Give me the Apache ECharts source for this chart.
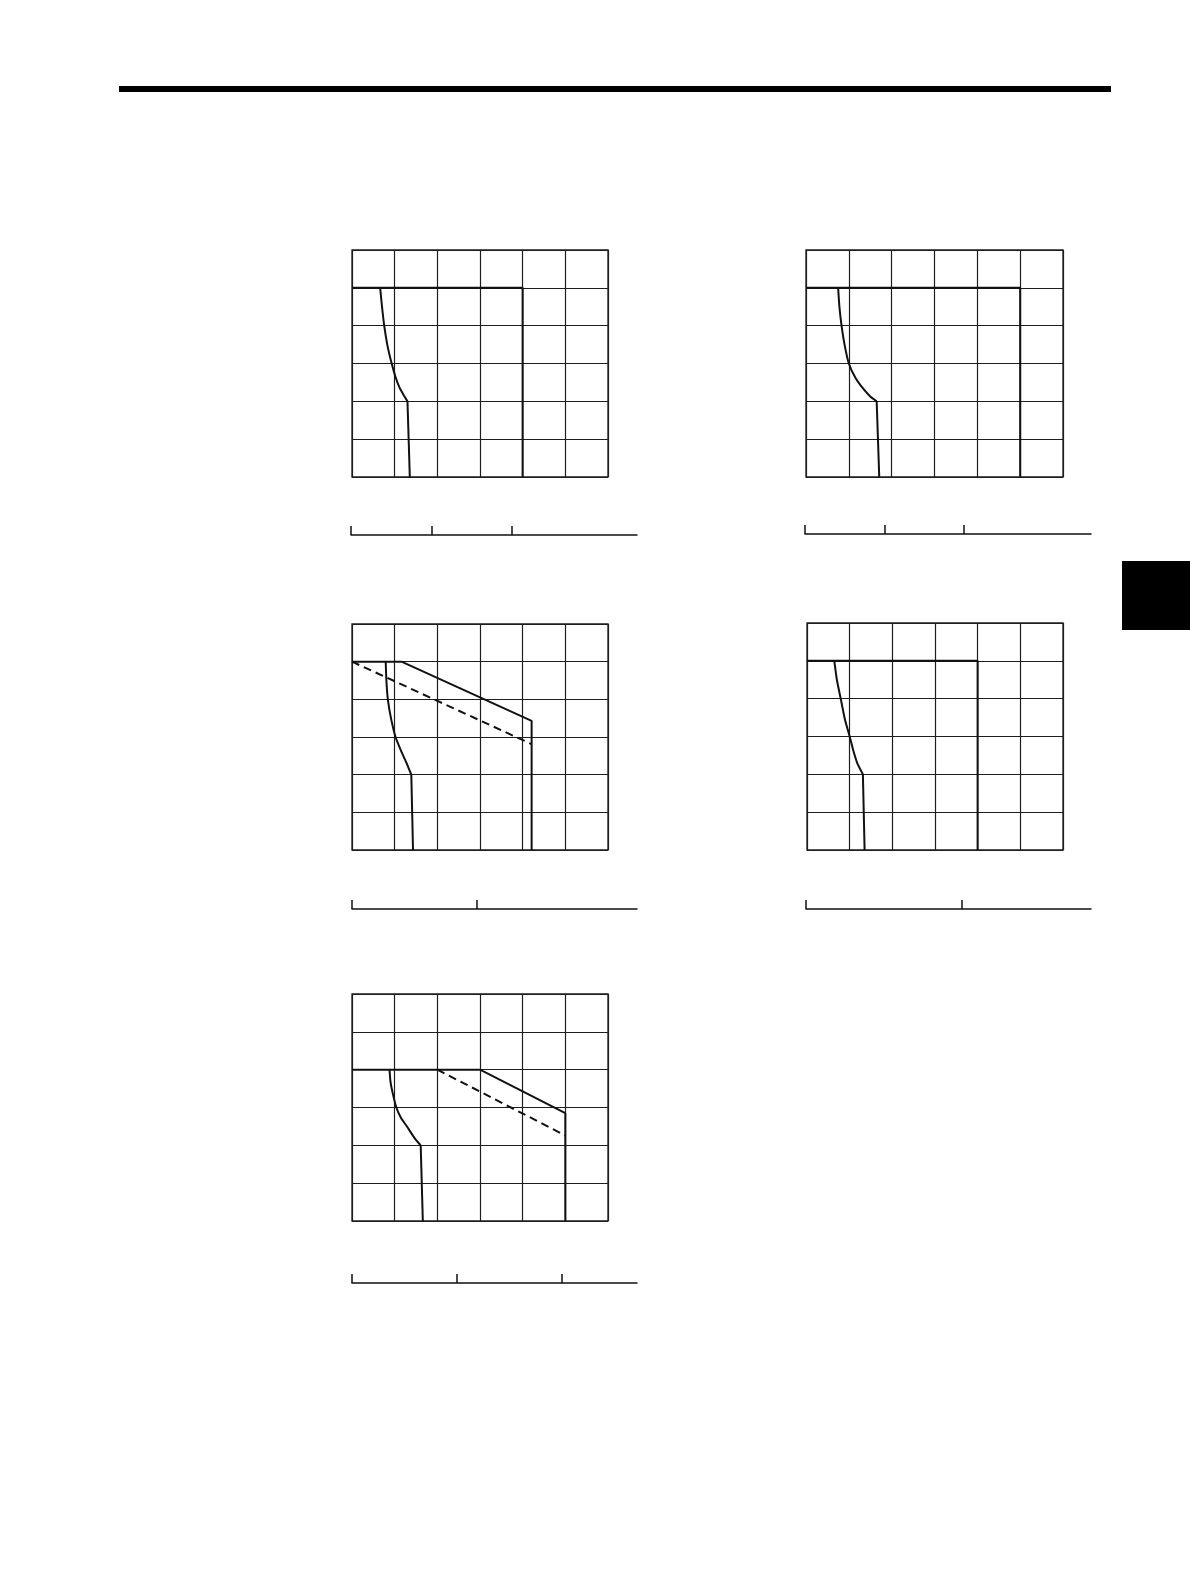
<!DOCTYPE html>
<html>
<head>
<meta charset="utf-8">
<script src="https://cdn.jsdelivr.net/npm/echarts@6/dist/echarts.min.js"></script>
<style>
    html, body { margin: 0; padding: 0; background: #fff; }
    #page-chart { width: 1190px; height: 1588px; }
</style>
</head>
<body>
<div id="page-chart"></div>
<script>
// grid: x 0..6 (torque divisions), y 0..6000 (speed)
var xTicks = [0, 1, 2, 3, 4, 5, 6];
var yTicks = [0, 1000, 2000, 3000, 4000, 5000, 6000];

// chart 1 (top left)
var c1Peak = [[0, 5000], [4, 5000], [4, 0]];
var c1Cont = [[0.66, 5000], [0.70, 4540], [0.755, 4000], [0.83, 3480], [0.93, 3000], [1.03, 2610], [1.12, 2350], [1.22, 2150], [1.30, 2000]];
var c1Drop = [[1.30, 2000], [1.355, 0]];

// chart 2 (top right)
var c2Peak = [[0, 5000], [5, 5000], [5, 0]];
var c2Cont = [[0.75, 5000], [0.78, 4500], [0.83, 4000], [0.90, 3500], [1.00, 3000], [1.16, 2610], [1.36, 2300], [1.50, 2130], [1.65, 2000]];
var c2Drop = [[1.65, 2000], [1.71, 0]];

// chart 3 (middle left)
var c3Peak = [[0, 5000], [1.16, 5000], [4.21, 3430], [4.21, 0]];
var c3Dash = [[0, 5000], [4.21, 2810]];
var c3Cont = [[0.79, 5000], [0.805, 4520], [0.84, 4000], [0.92, 3460], [1.02, 3000], [1.14, 2660], [1.27, 2330], [1.39, 2000]];
var c3Drop = [[1.39, 2000], [1.43, 0]];

// chart 4 (middle right)
var c4Peak = [[0, 5000], [4, 5000], [4, 0]];
var c4Cont = [[0.64, 5000], [0.70, 4500], [0.79, 4000], [0.89, 3440], [1.00, 3000], [1.08, 2650], [1.18, 2290], [1.31, 2000]];
var c4Drop = [[1.31, 2000], [1.35, 0]];

// chart 5 (bottom left)
var c5Peak = [[0, 4000], [3, 4000], [5, 2850], [5, 0]];
var c5Dash = [[2, 4000], [5, 2260]];
var c5Cont = [[0.88, 4000], [0.90, 3700], [0.95, 3400], [1.04, 3000], [1.15, 2720], [1.28, 2510], [1.48, 2170], [1.61, 2000]];
var c5Drop = [[1.61, 2000], [1.66, 0]];

// scale bars under each chart: tick values and axis end
var bar1Ticks = [0, 1, 2], bar1Max = 3.55;
var bar2Ticks = [0, 1, 2], bar2Max = 3.6;
var bar3Ticks = [0, 1], bar3Max = 2.28;
var bar4Ticks = [0, 1], bar4Max = 1.825;
var bar5Ticks = [0, 1, 2], bar5Max = 2.72;

function initPageChart() {
    var _chart = echarts.init(document.getElementById('page-chart'));

    var plots = [
        {box: [352, 250, 256, 227], peak: c1Peak, cont: c1Cont, drop: c1Drop},
        {box: [806, 250, 257, 227], peak: c2Peak, cont: c2Cont, drop: c2Drop},
        {box: [352, 624, 256, 226], peak: c3Peak, dash: c3Dash, cont: c3Cont, drop: c3Drop},
        {box: [807, 623, 256, 227], peak: c4Peak, cont: c4Cont, drop: c4Drop},
        {box: [352, 994, 256, 227], peak: c5Peak, dash: c5Dash, cont: c5Cont, drop: c5Drop}
    ];
    var bars = [
        {x: 351, y: 535, w: 286, ticks: bar1Ticks, max: bar1Max},
        {x: 805, y: 534, w: 286, ticks: bar2Ticks, max: bar2Max},
        {x: 352, y: 909, w: 285, ticks: bar3Ticks, max: bar3Max},
        {x: 806, y: 909, w: 285, ticks: bar4Ticks, max: bar4Max},
        {x: 352, y: 1283, w: 285, ticks: bar5Ticks, max: bar5Max}
    ];

    var grid = [], xAxis = [], yAxis = [], series = [];
    var lineCol = '#111';

    plots.forEach(function (p, i) {
        grid.push({
            left: p.box[0], top: p.box[1], width: p.box[2], height: p.box[3],
            show: true, borderColor: '#1e1e1e', borderWidth: 1.3, backgroundColor: 'transparent'
        });
        xAxis.push({
            gridIndex: i, type: 'value',
            min: xTicks[0], max: xTicks[xTicks.length - 1], interval: 1,
            axisLine: {show: false}, axisTick: {show: false}, axisLabel: {show: false},
            splitLine: {show: true, lineStyle: {color: '#1e1e1e', width: 1.2}}
        });
        yAxis.push({
            gridIndex: i, type: 'value',
            min: yTicks[0], max: yTicks[yTicks.length - 1], interval: 1000,
            axisLine: {show: false}, axisTick: {show: false}, axisLabel: {show: false},
            splitLine: {show: true, lineStyle: {color: '#1e1e1e', width: 1.2}}
        });
        series.push({
            type: 'line', xAxisIndex: i, yAxisIndex: i, data: p.peak,
            symbol: 'none', lineStyle: {color: lineCol, width: 2}, z: 3
        });
        if (p.dash) {
            series.push({
                type: 'line', xAxisIndex: i, yAxisIndex: i, data: p.dash,
                symbol: 'none', lineStyle: {color: lineCol, width: 2, type: [8, 5]}, z: 3
            });
        }
        series.push({
            type: 'line', xAxisIndex: i, yAxisIndex: i, data: p.cont,
            symbol: 'none', smooth: 0.15,
            lineStyle: {color: lineCol, width: 2}, z: 3
        });
        series.push({
            type: 'line', xAxisIndex: i, yAxisIndex: i, data: p.drop,
            symbol: 'none', lineStyle: {color: lineCol, width: 2}, z: 3
        });
    });

    bars.forEach(function (b, j) {
        var gi = plots.length + j;
        grid.push({left: b.x, top: b.y - 16, width: b.w, height: 16});
        xAxis.push({
            gridIndex: gi, type: 'value', min: 0, max: b.max, position: 'bottom',
            axisLine: {show: true, onZero: false, lineStyle: {color: '#111', width: 1.5}},
            axisTick: {show: true, inside: true, length: 9, customValues: b.ticks,
                lineStyle: {color: '#111', width: 1.5}},
            axisLabel: {show: false},
            splitLine: {show: false}
        });
        yAxis.push({gridIndex: gi, type: 'value', min: 0, max: 1, show: false});
    });

    var option = {
        animation: false,
        backgroundColor: '#fff',
        graphic: [
            // header rule and side tab of the page
            {type: 'rect', shape: {x: 119, y: 86, width: 992, height: 6}, style: {fill: '#000'}},
            {type: 'rect', shape: {x: 1122, y: 561, width: 68, height: 69}, style: {fill: '#000'}}
        ],
        grid: grid,
        xAxis: xAxis,
        yAxis: yAxis,
        series: series
    };
    _chart.setOption(option);
    window.addEventListener("resize", function () {
        _chart.resize();
    });
}

initPageChart();
</script>
</body>
</html>
